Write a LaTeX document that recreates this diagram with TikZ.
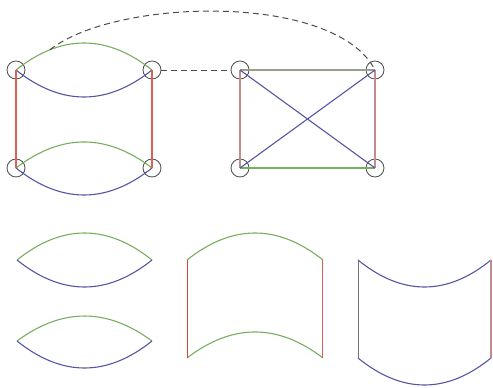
\documentclass[tikz,border=0pt]{standalone}
\usetikzlibrary{calc}
\definecolor{eg}{RGB}{120,175,95}
\definecolor{eb}{RGB}{85,85,165}
\definecolor{er}{RGB}{225,95,80}
\definecolor{edr}{RGB}{200,75,60}
\definecolor{ers}{RGB}{195,140,140}
\definecolor{egr}{RGB}{150,160,140}
\begin{document}
\begin{tikzpicture}[x=1pt,y=-1pt,
  vert/.style={circle,draw=black!70,line width=0.8pt,minimum size=18pt,inner sep=0pt},
  gedge/.style={draw=eg,line width=1.1pt},
  bedge/.style={draw=eb,line width=1.1pt},
  redge/.style={draw=er,line width=1.1pt},
  dredge/.style={draw=edr,line width=1.1pt},
  rsedge/.style={draw=ers,line width=1.1pt},
  gredge/.style={draw=egr,line width=1.1pt},
  dashedge/.style={draw=black!70,line width=1pt,dash pattern=on 6pt off 4pt}]
\useasboundingbox (0,0) rectangle (493,388);
% nodes
\node[vert] (a) at (16,70) {};
\node[vert] (b) at (152,70) {};
\node[vert] (c) at (16,168) {};
\node[vert] (d) at (152,168) {};
\node[vert] (e) at (240,70) {};
\node[vert] (f) at (375,70) {};
\node[vert] (g) at (240,168) {};
\node[vert] (h) at (375,168) {};
% left graph
\draw[gedge] (a.center) .. controls (61.3,34) and (106.7,34) .. (b.center) coordinate[pos=0.25] (ga);
\draw[bedge] (a.center) .. controls (61.3,106) and (106.7,106) .. (b.center);
\draw[gedge] (c.center) .. controls (61.3,133.3) and (106.7,133.3) .. (d.center);
\draw[bedge] (c.center) .. controls (61.3,204) and (106.7,204) .. (d.center);
\draw[redge] (a.center) -- (c.center);
\draw[redge] (b.center) -- (d.center);
% dashed connectors
\draw[dashedge] (b) -- (e);
\draw[dashedge] (ga) .. controls (115,-2) and (335,-8) .. (f.center);
% right graph
\draw[gredge] (e.center) -- (f.center);
\draw[gedge] (g.center) -- (h.center);
\draw[rsedge] (e.center) -- (g.center);
\draw[rsedge] (f.center) -- (h.center);
\draw[bedge] (e.center) -- (h.center);
\draw[bedge] (g.center) -- (f.center);
% bottom shapes: lens 1
\draw[gedge] (17,260) .. controls (62,224) and (107,224) .. (152,260);
\draw[bedge] (17,260) .. controls (62,296) and (107,296) .. (152,260);
% lens 2
\draw[gedge] (17,341) .. controls (62,307.7) and (107,307.7) .. (152,341);
\draw[bedge] (17,341) .. controls (62,377) and (107,377) .. (152,341);
% shape 2
\draw[gedge] (187,260) .. controls (232.3,224) and (277.7,224) .. (323,260);
\draw[gedge] (187,358) .. controls (232.3,323.3) and (277.7,323.3) .. (323,358);
\draw[dredge] (187.5,260) -- (187.5,358);
\draw[redge] (322.5,260) -- (322.5,358);
% shape 3
\draw[bedge] (358,260) .. controls (402.3,296) and (446.7,296) .. (491,260);
\draw[bedge] (358,358) .. controls (402.3,394) and (446.7,394) .. (491,358);
\draw[draw=black!55,line width=1.1pt] (358.5,260) -- (358.5,358);
\draw[rsedge] (491,260) -- (491,358);
\end{tikzpicture}
\end{document}
